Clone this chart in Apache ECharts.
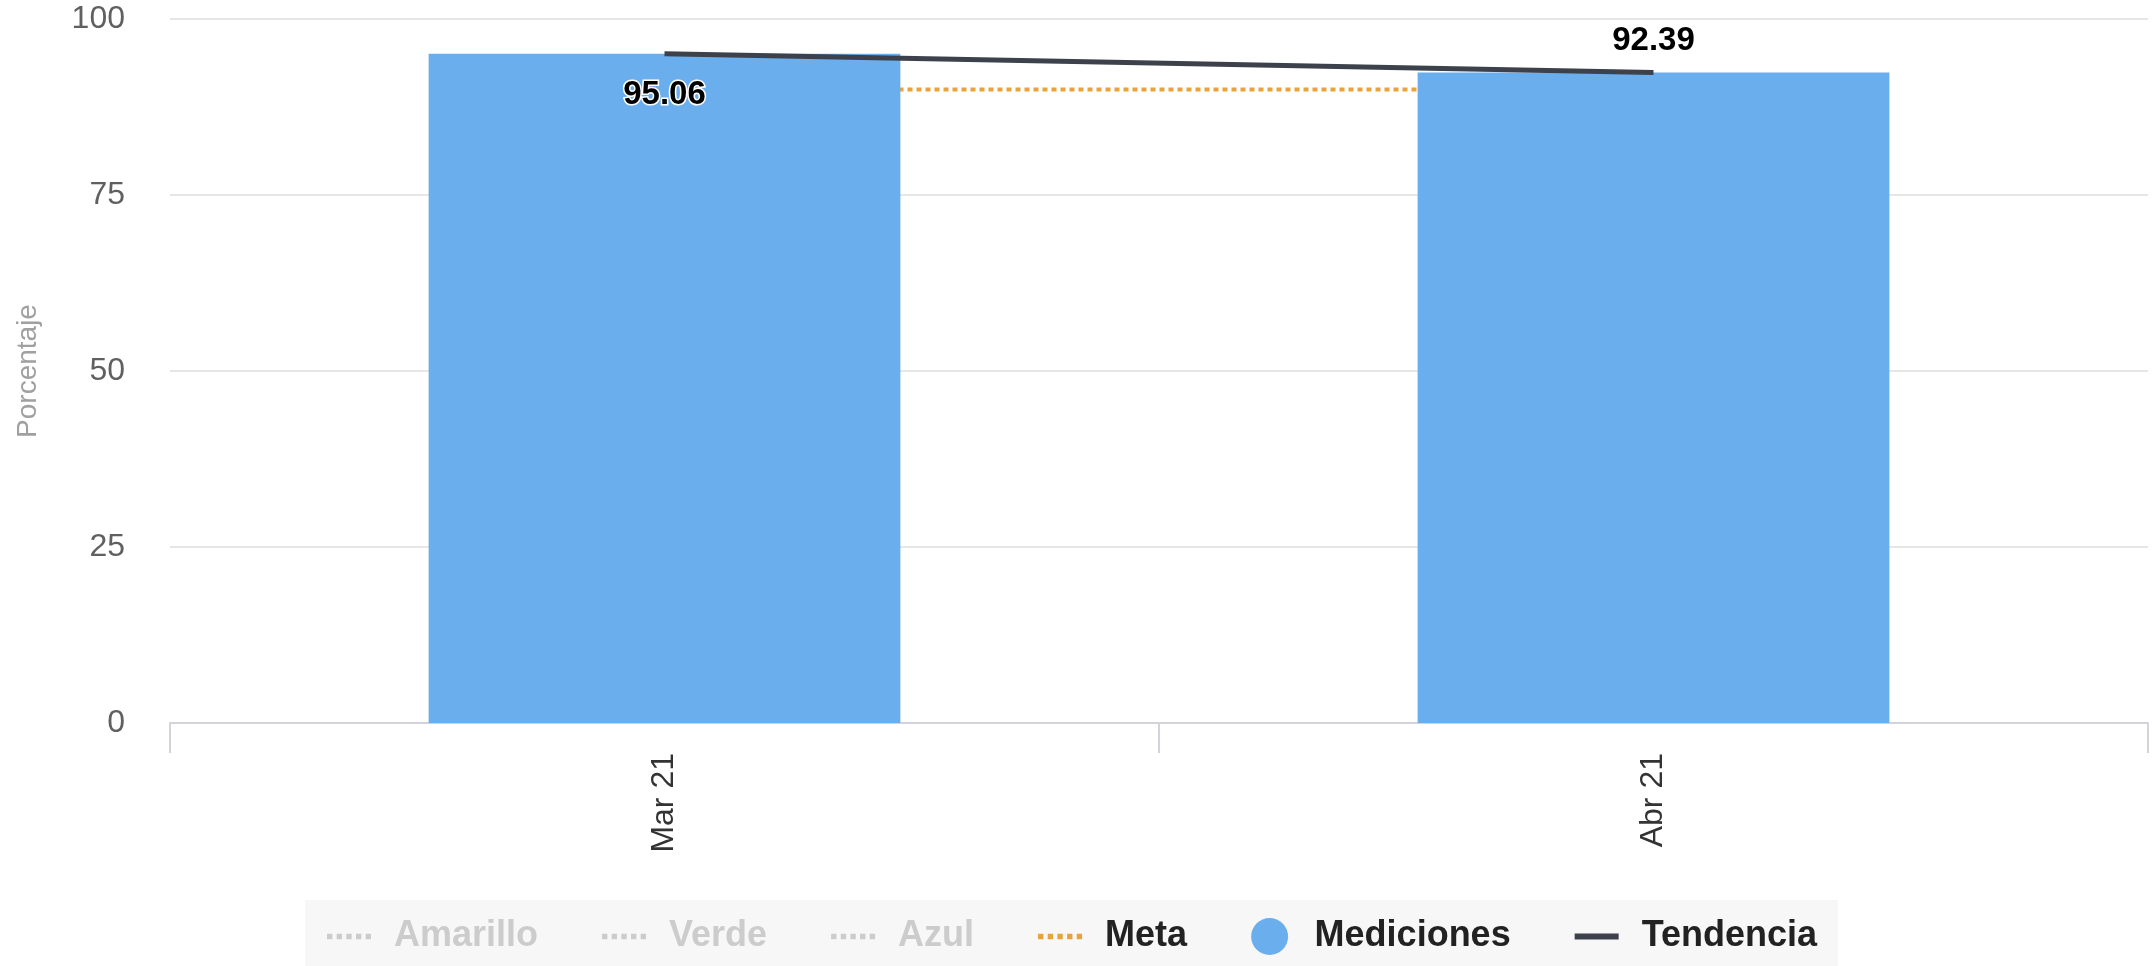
<!DOCTYPE html>
<html>
<head>
<meta charset="utf-8">
<title>Porcentaje por mes</title>
<script src="https://cdn.jsdelivr.net/npm/echarts@6/dist/echarts.min.js"></script>
<style>
  html, body { margin: 0; padding: 0; background: #ffffff; }
  #chart { width: 2154px; height: 966px; }
</style>
</head>
<body>
<div id="chart"></div>
<script>
// Months on the x axis
const categories = ['Mar 21', 'Abr 21'];
// Measured percentage per month
const mediciones = [95.06, 92.39];
// Trend through the measurements
const tendencia = [95.06, 92.39];
// Target level
const meta = [90, 90];
// Threshold bands (hidden by default in the legend)
const amarillo = [];
const verde = [];
const azul = [];
// Y axis range and step
const yMin = 0;
const yMax = 100;
const yStep = 25;

const FONT = "'Liberation Sans', Arial, Helvetica, sans-serif";
const dots = [5, 4];

// Legend glyphs: a short dotted stroke and a short solid stroke
const ICON_DOTTED = 'path://M0,0h5v5h-5z M9,0h5v5h-5z M18,0h5v5h-5z M27,0h5v5h-5z M36,0h5v5h-5z';
const ICON_SOLID = 'path://M0,0h44v6h-44z';

const chart = echarts.init(document.getElementById('chart'), null, { renderer: 'canvas' });

const option = {
  animation: false,
  backgroundColor: '#ffffff',
  textStyle: { fontFamily: FONT },
  grid: { left: 170, right: 6, top: 19, bottom: 243, containLabel: false },
  legend: {
    left: 305,
    top: 900,
    padding: [18, 21, 20, 22],
    backgroundColor: '#f7f7f7',
    itemWidth: 44,
    itemHeight: 37,
    itemGap: 64,
    symbolKeepAspect: true,
    inactiveColor: '#cccccc',
    itemStyle: { borderWidth: 0 },
    textStyle: {
      fontFamily: FONT,
      fontSize: 36,
      fontWeight: 'bold',
      color: '#222222',
      padding: [0, 0, 0, 18]
    },
    selected: { 'Amarillo': false, 'Verde': false, 'Azul': false },
    data: [
      { name: 'Amarillo', icon: ICON_DOTTED },
      { name: 'Verde', icon: ICON_DOTTED },
      { name: 'Azul', icon: ICON_DOTTED },
      { name: 'Meta', icon: ICON_DOTTED },
      { name: 'Mediciones', icon: 'circle' },
      { name: 'Tendencia', icon: ICON_SOLID }
    ]
  },
  xAxis: {
    type: 'category',
    data: categories,
    boundaryGap: true,
    axisLine: { show: true, lineStyle: { color: '#d3d3dc', width: 2 } },
    axisTick: { show: true, length: 30, lineStyle: { color: '#d3d3dc', width: 2 } },
    axisLabel: {
      rotate: 90,
      margin: 30,
      fontFamily: FONT,
      fontSize: 32,
      color: '#333333'
    },
    splitLine: { show: false }
  },
  yAxis: {
    type: 'value',
    min: yMin,
    max: yMax,
    interval: yStep,
    name: 'Porcentaje',
    nameLocation: 'middle',
    nameGap: 128,
    nameRotate: 90,
    nameTextStyle: { fontFamily: FONT, fontSize: 28, color: '#a0a0a0' },
    axisLine: { show: false },
    axisTick: { show: false },
    axisLabel: { margin: 45, fontFamily: FONT, fontSize: 32, color: '#606060' },
    splitLine: { show: true, lineStyle: { color: '#e6e6e6', width: 2 } }
  },
  series: [
    {
      name: 'Amarillo', type: 'line', data: amarillo, symbol: 'none', z: 1,
      itemStyle: { color: '#f2c230' },
      lineStyle: { color: '#f2c230', width: 4, type: dots }
    },
    {
      name: 'Verde', type: 'line', data: verde, symbol: 'none', z: 1,
      itemStyle: { color: '#3cb371' },
      lineStyle: { color: '#3cb371', width: 4, type: dots }
    },
    {
      name: 'Azul', type: 'line', data: azul, symbol: 'none', z: 1,
      itemStyle: { color: '#3a78c9' },
      lineStyle: { color: '#3a78c9', width: 4, type: dots }
    },
    {
      name: 'Meta', type: 'line', data: meta, symbol: 'none', z: 1,
      itemStyle: { color: '#eaa33a' },
      lineStyle: { color: '#eaa33a', width: 4, type: dots }
    },
    {
      name: 'Mediciones', type: 'bar', z: 2,
      barWidth: '47.7%',
      itemStyle: { color: '#6aaeee' },
      data: mediciones.map((v, i) => ({
        value: v,
        label: i === 0
          ? { position: 'insideTop', distance: 25 }
          : { position: 'top', distance: 15 }
      })),
      label: {
        show: true,
        fontFamily: FONT,
        fontSize: 33,
        fontWeight: 'bold',
        color: '#000000',
        textBorderColor: '#ffffff',
        textBorderWidth: 3,
        formatter: (p) => p.value.toFixed(2)
      }
    },
    {
      name: 'Tendencia', type: 'line', data: tendencia, symbol: 'none', z: 3,
      itemStyle: { color: '#3c414b' },
      lineStyle: { color: '#3c414b', width: 5 }
    }
  ]
};

chart.setOption(option);
</script>
</body>
</html>
